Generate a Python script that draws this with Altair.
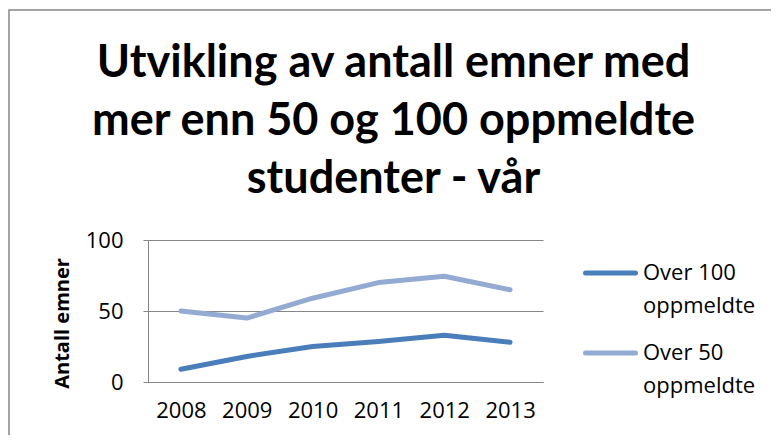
import altair as alt
import pandas as pd

years = ["2008", "2009", "2010", "2011", "2012", "2013"]
over_100 = [9, 18, 25, 28.5, 33, 28]
over_50 = [50, 45, 59, 70, 74.5, 65]
series_names = ["Over 100 oppmeldte", "Over 50 oppmeldte"]
legend_lines = [["Over 100", "oppmeldte"], ["Over 50", "oppmeldte"]]
series_colors = ["#4A7EBB", "#93AAD3"]
y_ticks = [0, 50, 100]
title_lines = ["Utvikling av antall emner med", "mer enn 50 og 100 oppmeldte", "studenter - vår"]

rows = []
for name, vals in zip(series_names, [over_100, over_50]):
    for yr, v in zip(years, vals):
        rows.append({"year": yr, "value": v, "series": name})
df = pd.DataFrame(rows)
leg_df = pd.DataFrame({"series": series_names, "label": legend_lines})

FONT = "Open Sans"
GRAY = "#868686"
color_scale = alt.Scale(domain=series_names, range=series_colors)

lines = alt.Chart(df).mark_line(strokeWidth=5, strokeCap="round", strokeJoin="round").encode(
    x=alt.X("year:N", sort=years, title=None,
            scale=alt.Scale(paddingOuter=0.5),
            axis=alt.Axis(labelAngle=0, ticks=False, domain=True, domainColor=GRAY,
                          labelFont=FONT, labelFontSize=22, labelColor="#000000",
                          labelPadding=18, grid=False)),
    y=alt.Y("value:Q", title="Antall emner",
            scale=alt.Scale(domain=[0, 100], nice=False),
            axis=alt.Axis(values=y_ticks, grid=True, gridColor=GRAY, gridWidth=1,
                          domainColor=GRAY, tickColor=GRAY, tickSize=5,
                          labelFont=FONT, labelFontSize=22, labelColor="#000000",
                          labelPadding=20,
                          titleFont=FONT, titleFontSize=20, titleFontWeight="bold",
                          titleColor="#000000", titleAngle=270, titleX=-86, titleY=83,
                          titleAlign="center", titleBaseline="middle")),
    color=alt.Color("series:N", scale=color_scale, legend=None),
)

leg_y = alt.Y("series:N",
              scale=alt.Scale(type="point", domain=series_names, range=[33, 113], padding=0),
              axis=None)

leg_rules = alt.Chart(leg_df).mark_rule(strokeWidth=5, strokeCap="round").encode(
    x=alt.value(437.5), x2=alt.value(487.5), y=leg_y,
    color=alt.Color("series:N", scale=color_scale, legend=None),
)
leg_text = alt.Chart(leg_df).mark_text(
    align="left", baseline="alphabetic", dy=7, lineHeight=33,
    font=FONT, fontSize=22, color="#000000"
).encode(
    x=alt.value(495), y=leg_y, text="label"
)

border = alt.Chart(pd.DataFrame({"a": [0]})).mark_rect(
    fill=None, stroke=GRAY, strokeWidth=1.5
).encode(
    x=alt.value(-139), y=alt.value(-230), x2=alt.value(700), y2=alt.value(300)
)

chart = alt.layer(border, lines, leg_rules, leg_text).resolve_scale(y="independent").properties(
    width=395, height=142,
    autosize=alt.AutoSizeParams(type="none"),
    padding={"left": 140, "top": 232, "right": 228, "bottom": 53},
    title=alt.Title(title_lines, font="Lato", fontSize=45, fontWeight="bold",
                    color="#000000", lineHeight=58, anchor="middle", frame="group",
                    dx=48, offset=-193),
).configure_view(stroke=None)

chart.save("out.html", embed_options={"renderer": "svg", "actions": False})
